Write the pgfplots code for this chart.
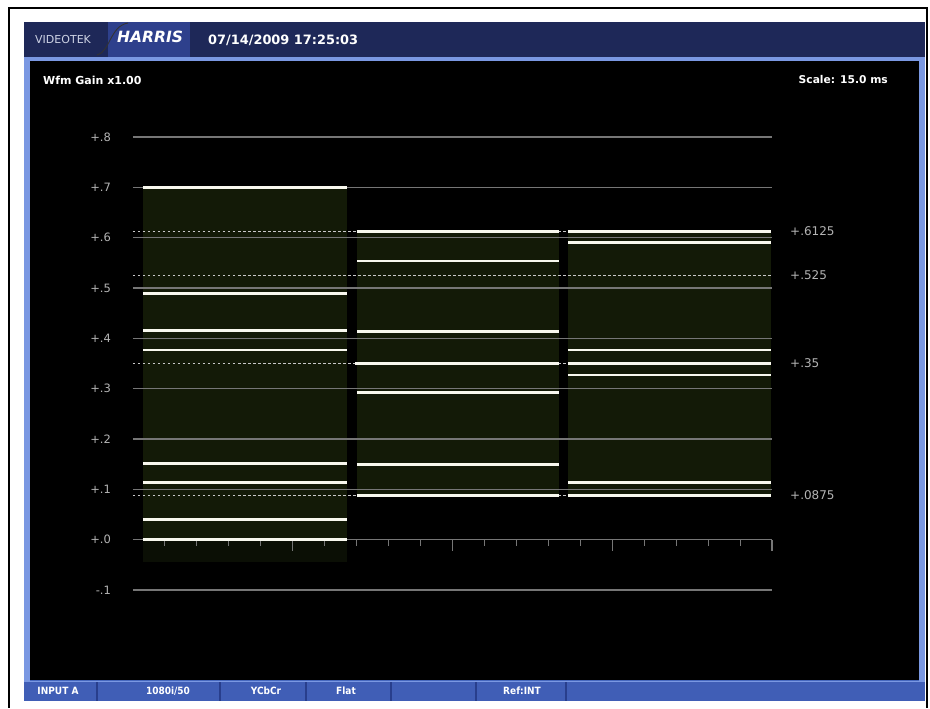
\documentclass[border=0pt]{standalone}
\usepackage{pgfplots}
\pgfplotsset{compat=1.18}
\usetikzlibrary{backgrounds}
\usepackage{fontspec}
\setmainfont{DejaVu Sans}
\newfontfamily\cond{DejaVu Sans Condensed}
\definecolor{navy}{RGB}{30,40,88}
\definecolor{harrisbox}{RGB}{46,64,140}
\definecolor{scrblue}{RGB}{70,104,190}
\definecolor{lightblue}{RGB}{122,152,226}
\definecolor{barblue}{RGB}{64,94,182}
\definecolor{sepblue}{RGB}{40,62,140}
\definecolor{gridgray}{RGB}{118,118,118}
\definecolor{labelgray}{RGB}{180,180,180}
\definecolor{dashgray}{RGB}{200,200,200}
\definecolor{levelwhite}{RGB}{248,248,238}
\definecolor{noisegreen}{RGB}{19,26,7}
\definecolor{noisedark}{RGB}{11,15,5}
\begin{document}
\begin{tikzpicture}[x=1pt,y=1pt]
\begin{axis}[
  scale only axis, width=639pt, height=453pt,
  xmin=0, xmax=20, ymin=-0.1, ymax=0.8,
  clip=false,
  axis x line=middle, axis y line=left,
  x axis line style={gridgray, line width=1.1pt, -},
  y axis line style={draw=none},
  xtick={0,5,10,15,20},
  minor xtick={1,2,3,4,6,7,8,9,11,12,13,14,16,17,18,19},
  xticklabels={},
  xtick align=outside,
  major tick length=11pt, minor tick length=6pt,
  xtick style={gridgray, line width=1.1pt},
  ytick={-0.1,0,0.1,0.2,0.3,0.4,0.5,0.6,0.7,0.8},
  yticklabels={-.1,+.0,+.1,+.2,+.3,+.4,+.5,+.6,+.7,+.8},
  ytick style={draw=none},
  ymajorgrids,
  grid style={gridgray, line width=1.1pt},
  yticklabel style={font=\fontsize{11.5}{13}\selectfont, text=labelgray, anchor=east, xshift=-13pt},
  lvl/.style={levelwhite, line width=2.6pt, forget plot},
  ref/.style={dashgray, line width=1pt, dash pattern=on 2.5pt off 2.5pt, forget plot},
  area/.style={draw=none, forget plot, blend mode=lighten},
]
% signal areas (lighten keeps the grid visible through them)
\addplot[area, fill=noisegreen] coordinates {(0.31,0) (6.70,0) (6.70,0.70) (0.31,0.70)} -- cycle;
\addplot[area, fill=noisedark] coordinates {(0.31,-0.045) (6.70,-0.045) (6.70,0) (0.31,0)} -- cycle;
\addplot[area, fill=noisegreen] coordinates {(7.01,0.0875) (13.32,0.0875) (13.32,0.6125) (7.01,0.6125)} -- cycle;
\addplot[area, fill=noisegreen] coordinates {(13.61,0.0875) (19.97,0.0875) (19.97,0.6125) (13.61,0.6125)} -- cycle;
% reference dashed levels
\addplot[ref] coordinates {(0,0.6125) (20,0.6125)};
\addplot[ref] coordinates {(0,0.525) (20,0.525)};
\addplot[ref] coordinates {(0,0.35) (20,0.35)};
\addplot[ref] coordinates {(0,0.0875) (20,0.0875)};
% block 1
\addplot[lvl] coordinates {(0.31,0.700) (6.70,0.700)};
\addplot[lvl] coordinates {(0.31,0.489) (6.70,0.489)};
\addplot[lvl] coordinates {(0.31,0.415) (6.70,0.415)};
\addplot[lvl] coordinates {(0.31,0.377) (6.70,0.377)};
\addplot[lvl] coordinates {(0.31,0.151) (6.70,0.151)};
\addplot[lvl] coordinates {(0.31,0.113) (6.70,0.113)};
\addplot[lvl] coordinates {(0.31,0.040) (6.70,0.040)};
\addplot[lvl] coordinates {(0.31,0.000) (6.70,0.000)};
% block 2
\addplot[lvl] coordinates {(7.01,0.6125) (13.32,0.6125)};
\addplot[lvl] coordinates {(7.01,0.554) (13.32,0.554)};
\addplot[lvl] coordinates {(7.01,0.414) (13.32,0.414)};
\addplot[lvl] coordinates {(6.95,0.350) (13.32,0.350)};
\addplot[lvl] coordinates {(7.01,0.292) (13.32,0.292)};
\addplot[lvl] coordinates {(7.01,0.149) (13.32,0.149)};
\addplot[lvl] coordinates {(7.01,0.0875) (13.32,0.0875)};
% block 3
\addplot[lvl] coordinates {(13.61,0.6125) (19.97,0.6125)};
\addplot[lvl] coordinates {(13.61,0.590) (19.97,0.590)};
\addplot[lvl] coordinates {(13.61,0.377) (19.97,0.377)};
\addplot[lvl] coordinates {(13.61,0.350) (19.97,0.350)};
\addplot[lvl] coordinates {(13.61,0.327) (19.97,0.327)};
\addplot[lvl] coordinates {(13.61,0.114) (19.97,0.114)};
\addplot[lvl] coordinates {(13.61,0.0875) (19.97,0.0875)};
% right labels
\begin{scope}[every node/.style={anchor=west, inner sep=0, text=labelgray, font=\fontsize{12}{14}\selectfont, xshift=18pt}]
\node at (axis cs:20,0.6125) {+.6125};
\node at (axis cs:20,0.525) {+.525};
\node at (axis cs:20,0.35) {+.35};
\node at (axis cs:20,0.0875) {+.0875};
\end{scope}
\coordinate (O) at (axis cs:0,-0.1);
\end{axis}
\begin{scope}[on background layer, shift={(O)}, shift={(-133pt,-118pt)}]
\fill[white] (0,0) rectangle (930,708);
% outer frame
\draw[black, line width=2pt] (9,0) -- (9,700) -- (927,700) -- (927,0);
% monitor screen
\fill[scrblue] (24,7) rectangle (925,686);
\fill[navy] (24,651) rectangle (925,686);
\fill[harrisbox] (108,651) rectangle (190,686);
\fill[lightblue] (24,647) rectangle (925,651);
\fill[lightblue] (24,27) rectangle (30,651);
\fill[lightblue] (919,27) rectangle (925,651);
\fill[black] (30,28) rectangle (919,647);
\fill[barblue] (24,7) rectangle (925,27);
\draw[lightblue, line width=1pt] (24,26.5) -- (925,26.5);
\foreach \s in {97,220,306,391,476,566} \draw[sepblue, line width=1.2pt] (\s,7) -- (\s,26);
% header texts
\node[anchor=west, inner sep=0, text={rgb,255:red,205;green,210;blue,228}] at (35,668) {\fontsize{11}{13}\selectfont VIDEOTEK};
\draw[black!80, line width=0.9pt] (97,653) .. controls (110,656) and (110,682) .. (128,685);
\node[anchor=west, inner sep=0, text=white] at (117,671) {\fontsize{15.5}{17}\selectfont\bfseries\itshape HARRIS};
\node[anchor=west, inner sep=0, text=white] at (208,668) {\fontsize{12.9}{15}\selectfont\bfseries 07/14/2009 17:25:03};
\node[anchor=west, inner sep=0, text=white] at (43,628) {\fontsize{11}{13}\selectfont\bfseries Wfm Gain x1.00};
\node[anchor=east, inner sep=0, text=white] at (888,628) {\fontsize{10.7}{13}\selectfont\bfseries Scale: 15.0 ms};
% bottom bar texts
\begin{scope}[every node/.style={inner sep=0, text=white, font=\cond\fontsize{10}{12}\selectfont\bfseries}]
\node at (58,17) {INPUT A};
\node at (168,17) {1080i/50};
\node at (266,17) {YCbCr};
\node at (346,17) {Flat};
\node at (522,17) {Ref:INT};
\end{scope}
\end{scope}
\end{tikzpicture}
\end{document}
